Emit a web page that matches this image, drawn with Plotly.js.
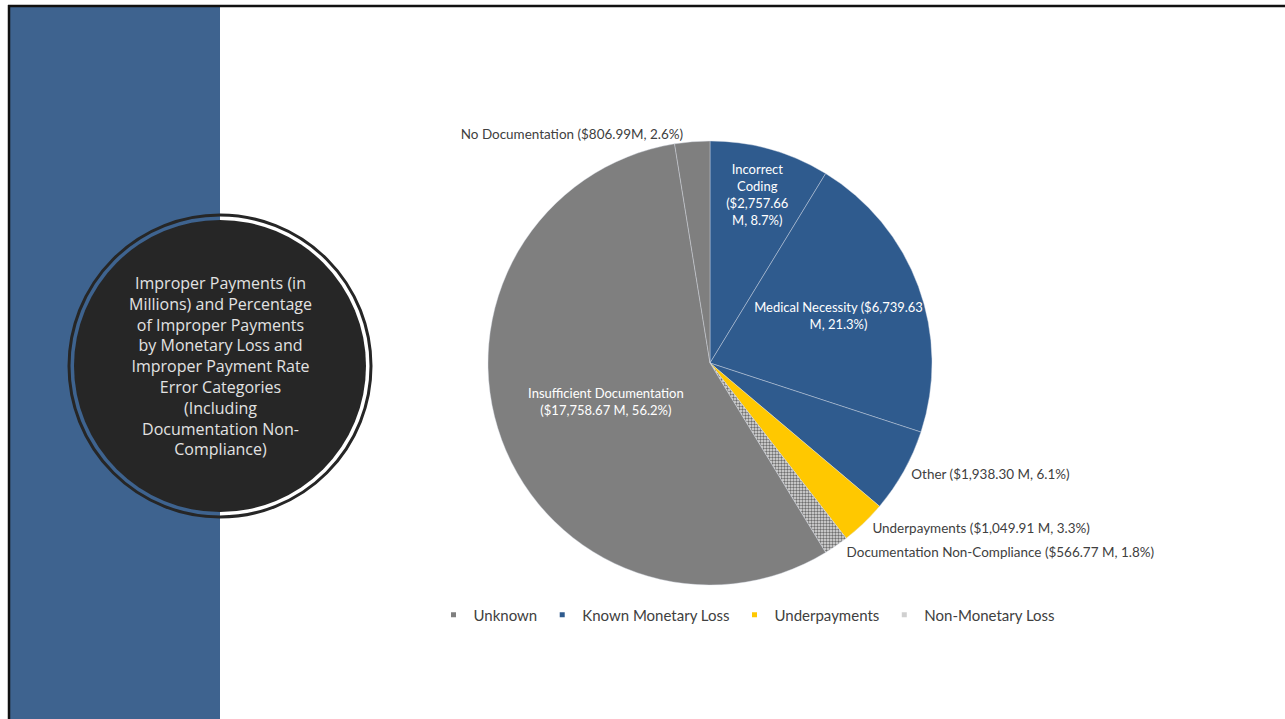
<!DOCTYPE html>
<html>
<head>
<meta charset="utf-8">
<script src="https://cdn.plot.ly/plotly-3.0.1.min.js"></script>
<style>
html,body{margin:0;padding:0;background:#fff;}
#chart{width:1285px;height:719px;}
</style>
</head>
<body>
<div id="chart"></div>
<script>
// ---- data ----
var sliceLabels = ["Incorrect Coding", "Medical Necessity", "Other", "Underpayments",
  "Documentation Non-Compliance", "Insufficient Documentation", "No Documentation"];
var sliceValues = [2757.66, 6739.63, 1938.30, 1049.91, 566.77, 17758.67, 806.99];
var slicePercents = ["8.7%", "21.3%", "6.1%", "3.3%", "1.8%", "56.2%", "2.6%"];
var sliceGroups = ["Known Monetary Loss", "Known Monetary Loss", "Known Monetary Loss",
  "Underpayments", "Non-Monetary Loss", "Unknown", "Unknown"];
var sliceText = [
  "Incorrect<br>Coding<br>($2,757.66<br>M, 8.7%)",
  "Medical Necessity ($6,739.63<br>M, 21.3%)",
  "Other ($1,938.30 M, 6.1%)",
  "Underpayments ($1,049.91 M, 3.3%)",
  "Documentation Non-Compliance ($566.77 M, 1.8%)",
  "Insufficient Documentation<br>($17,758.67 M, 56.2%)",
  "No Documentation ($806.99M, 2.6%)"
];
var sliceTextPos = ["inside", "inside", "outside", "outside", "outside", "inside", "outside"];
var legendGroups = ["Unknown", "Known Monetary Loss", "Underpayments", "Non-Monetary Loss"];
var titleText = "Improper Payments (in<br>Millions) and Percentage<br>of Improper Payments<br>by Monetary Loss and<br>Improper Payment Rate<br>Error Categories<br>(Including<br>Documentation Non-<br>Compliance)";

// ---- styles ----
var groupColors = {
  "Unknown": "#7f7f7f",
  "Known Monetary Loss": "#2f5b8e",
  "Underpayments": "#ffc800",
  "Non-Monetary Loss": "#c9c9c9"
};
var legendColors = {
  "Unknown": "#7f7f7f",
  "Known Monetary Loss": "#2f5b8e",
  "Underpayments": "#ffc800",
  "Non-Monetary Loss": "#d0d0d0"
};
var W = 1285, H = 719;
var cx = 710, cy = 363, R = 222;
var FONT = "Lato, 'Open Sans', sans-serif";

var colors = sliceGroups.map(function(g){ return groupColors[g]; });
var patShapes = sliceGroups.map(function(g){ return g === "Non-Monetary Loss" ? "." : ""; });
var textColors = sliceTextPos.map(function(p){ return p === "inside" ? "#ffffff" : "#404040"; });
var textSizes = sliceTextPos.map(function(p){ return p === "inside" ? 13 : 14; });

var pie = {
  type: "pie",
  labels: sliceLabels,
  values: sliceValues,
  text: sliceText,
  textinfo: "text",
  hoverinfo: "label+value+percent",
  textposition: sliceTextPos,
  insidetextorientation: "horizontal",
  textfont: {family: FONT, size: textSizes, color: textColors},
  sort: false,
  direction: "clockwise",
  rotation: 0,
  showlegend: false,
  automargin: false,
  marker: {
    colors: colors,
    line: {color: "rgba(220,225,235,0.5)", width: 0.8},
    pattern: {shape: patShapes, fgcolor: "#6f6f6f", bgcolor: "#e2e2e2", size: 3, solidity: 0.5}
  },
  domain: {x: [(cx - R) / W, (cx + R) / W], y: [1 - (cy + R) / H, 1 - (cy - R) / H]}
};

var legendTraces = legendGroups.map(function(g){
  return {
    type: "scatter", mode: "markers", x: [null], y: [null], name: g,
    marker: {symbol: "square", size: 5, color: legendColors[g]},
    hoverinfo: "skip", showlegend: true
  };
});

var layout = {
  width: W, height: H,
  margin: {l: 0, r: 0, t: 0, b: 0},
  paper_bgcolor: "#ffffff",
  plot_bgcolor: "rgba(0,0,0,0)",
  xaxis: {visible: false, domain: [0, 0.01]},
  yaxis: {visible: false, domain: [0, 0.01]},
  uniformtext: {mode: "show", minsize: 13},
  showlegend: true,
  legend: {
    orientation: "h", x: 747 / W, xanchor: "center", y: 1 - 615 / H, yanchor: "middle",
    font: {family: FONT, size: 15, color: "#404040"},
    itemwidth: 30, tracegroupgap: 0, bgcolor: "rgba(0,0,0,0)"
  },
  font: {family: FONT},
  shapes: [
    // blue side bar
    {type: "rect", xref: "paper", yref: "paper", x0: 10 / W, x1: 220 / W, y0: 0, y1: 1 - 7 / H,
      fillcolor: "#3e638f", line: {width: 0}, layer: "below"},
    // frame lines
    {type: "line", xref: "paper", yref: "paper", x0: 8 / W, x1: 1, y0: 1 - 6 / H, y1: 1 - 6 / H,
      line: {color: "#111111", width: 2.5}},
    {type: "line", xref: "paper", yref: "paper", x0: 9 / W, x1: 9 / W, y0: 0, y1: 1 - 5 / H,
      line: {color: "#111111", width: 2.5}},
    // circle ring
    {type: "circle", xref: "paper", yref: "paper", xsizemode: "pixel", ysizemode: "pixel",
      xanchor: 220 / W, yanchor: 1 - 366 / H, x0: -151, x1: 151, y0: -151, y1: 151,
      line: {color: "#262626", width: 3}, fillcolor: "rgba(0,0,0,0)"},
    // filled circle
    {type: "circle", xref: "paper", yref: "paper", xsizemode: "pixel", ysizemode: "pixel",
      xanchor: 220 / W, yanchor: 1 - 366 / H, x0: -146, x1: 146, y0: -146, y1: 146,
      line: {width: 0}, fillcolor: "#262626"}
  ],
  annotations: [
    {xref: "paper", yref: "paper", x: 220 / W, y: 1 - 366 / H, xanchor: "center", yanchor: "middle",
      text: titleText, showarrow: false, align: "center",
      font: {family: "'Open Sans', Lato, sans-serif", size: 16, color: "#e2e2e2"}}
  ]
};

Plotly.newPlot("chart", [pie].concat(legendTraces), layout, {displayModeBar: false, staticPlot: true});
</script>
</body>
</html>
